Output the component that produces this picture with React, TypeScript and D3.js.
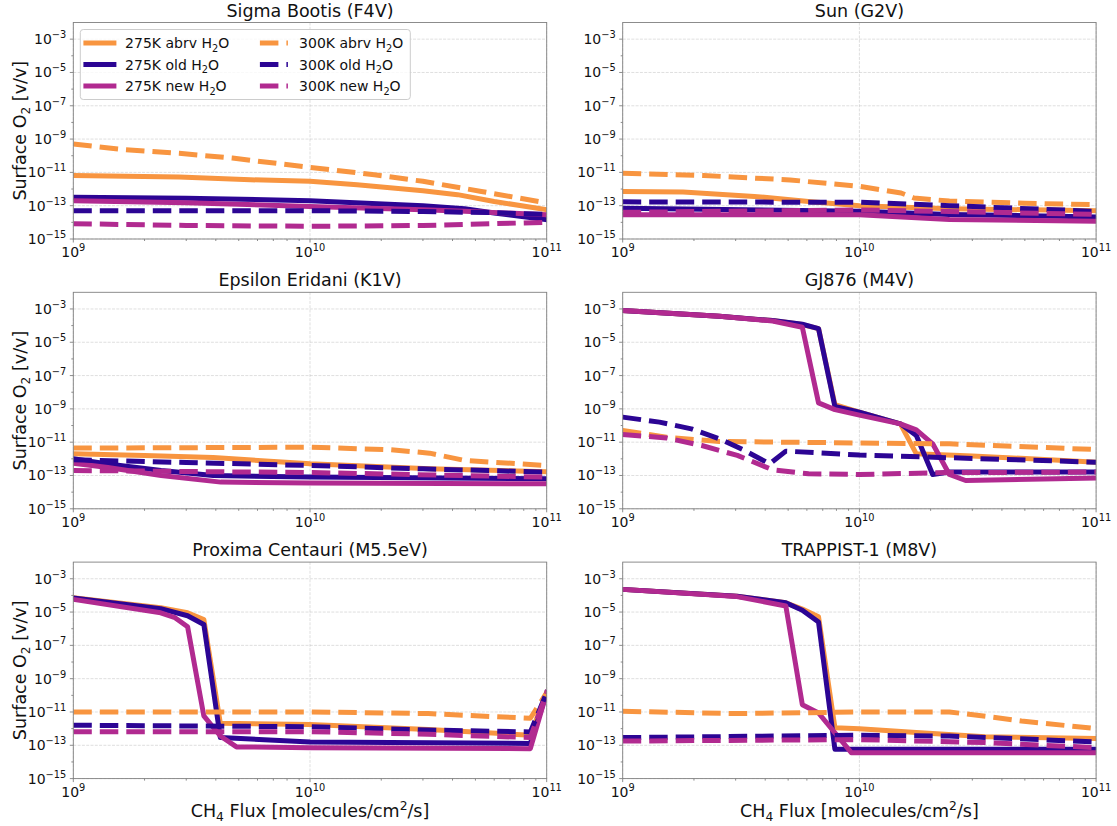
import React from "react";
import * as d3 from "d3";

type Pt = [number, number];

// ---------- Sigma Bootis (F4V) ----------
const sb275Abrv: Pt[] = [[1e9, 6.6e-12], [2.8e9, 5.2e-12], [5.6e9, 3.6e-12], [1e10, 2.9e-12], [1.58e10, 1.8e-12], [3e10, 8e-13], [4.2e10, 4.6e-13], [6e10, 1.8e-13], [1e11, 5.8e-14]];
const sb275Old: Pt[] = [[1e9, 3.2e-13], [3e9, 2.8e-13], [1e10, 2e-13], [3e10, 1e-13], [4.5e10, 6.6e-14], [6e10, 3.6e-14], [1e11, 1.45e-14]];
const sb275New: Pt[] = [[1e9, 2e-13], [3e9, 1.5e-13], [1e10, 9e-14], [3e10, 5.8e-14], [4.5e10, 4.6e-14], [1e11, 2.9e-14]];
const sb300Abrv: Pt[] = [[1e9, 5e-10], [1.65e9, 2.3e-10], [2.8e9, 1.4e-10], [4.7e9, 7.2e-11], [1e10, 2e-11], [1.87e10, 7.2e-12], [3e10, 2.9e-12], [5.3e10, 7.2e-13], [1e11, 1.45e-13]];
const sb300Old: Pt[] = [[1e9, 5e-14], [1e10, 5e-14], [3e10, 4.5e-14], [6e10, 3.8e-14], [1e11, 3e-14]];
const sb300New: Pt[] = [[1e9, 8.3e-15], [3e9, 6.5e-15], [1e10, 5.8e-15], [3e10, 6.5e-15], [1e11, 1e-14]];

// ---------- Sun (G2V) ----------
const sun275Abrv: Pt[] = [[1e9, 7.2e-13], [1.8e9, 6.6e-13], [3.6e9, 3.6e-13], [6.1e9, 1.8e-13], [1e10, 1e-13], [2.4e10, 6.6e-14], [1e11, 5e-14]];
const sun275Old: Pt[] = [[1e9, 7e-14], [1e10, 4.6e-14], [2.4e10, 3e-14], [1e11, 2.1e-14]];
const sun275New: Pt[] = [[1e9, 2.9e-14], [1e10, 2.9e-14], [2.4e10, 1.5e-14], [1e11, 1.15e-14]];
const sun300Abrv: Pt[] = [[1e9, 9e-12], [2.2e9, 6.5e-12], [5.1e9, 3.5e-12], [1e10, 1.45e-12], [1.5e10, 5.8e-13], [1.7e10, 2.9e-13], [2.4e10, 1.9e-13], [5e10, 1.4e-13], [1e11, 1.15e-13]];
const sun300Old: Pt[] = [[1e9, 1.7e-13], [1e10, 1.6e-13], [2.4e10, 1e-13], [1e11, 4.6e-14]];
const sun300New: Pt[] = [[1e9, 4e-14], [1e10, 5.5e-14], [2.4e10, 4.5e-14], [1e11, 3e-14]];

// ---------- Epsilon Eridani (K1V) ----------
const ee275Abrv: Pt[] = [[1e9, 2e-12], [2e9, 1.6e-12], [3.9e9, 1.2e-12], [1e10, 5e-13], [3.2e10, 2.5e-13], [1e11, 1.7e-13]];
const ee275Old: Pt[] = [[1e9, 1e-12], [1.4e9, 5e-13], [2.35e9, 2e-13], [3.9e9, 1e-13], [1e10, 8e-14], [1e11, 6.3e-14]];
const ee275New: Pt[] = [[1e9, 5.5e-13], [1.4e9, 3e-13], [2.35e9, 1e-13], [4.2e9, 4e-14], [1e10, 3.5e-14], [1e11, 3.2e-14]];
const ee300Abrv: Pt[] = [[1e9, 4.4e-12], [1e10, 5e-12], [2.2e10, 3.5e-12], [3.2e10, 2.2e-12], [4.5e10, 8e-13], [1e11, 4e-13]];
const ee300Old: Pt[] = [[1e9, 8.7e-13], [3e9, 6e-13], [1e10, 4e-13], [3e10, 2.5e-13], [1e11, 1.6e-13]];
const ee300New: Pt[] = [[1e9, 2e-13], [1e10, 1.5e-13], [1e11, 8e-14]];

// ---------- GJ876 (M4V) ----------
const gj275Abrv: Pt[] = [[1e9, 8e-4], [2.56e9, 3.6e-4], [4.3e9, 2e-4], [5.74e9, 1.15e-4], [6.72e9, 6.6e-5], [7.88e9, 1.8e-9], [1e10, 6.3e-10], [1.49e10, 1.26e-10], [1.74e10, 2e-12], [3e10, 1.5e-12], [1e11, 6.3e-13]];
const gj275Old: Pt[] = [[1e9, 8e-4], [2.56e9, 3.6e-4], [4.3e9, 2e-4], [5.74e9, 1.2e-4], [6.72e9, 6.6e-5], [7.88e9, 1.4e-9], [1e10, 6.3e-10], [1.49e10, 1.26e-10], [1.74e10, 2.5e-11], [2.04e10, 1.15e-13], [2.4e10, 1.6e-13], [1e11, 1.6e-13]];
const gj275New: Pt[] = [[1e9, 8e-4], [2.56e9, 3.6e-4], [4.3e9, 1.9e-4], [5.74e9, 8e-5], [6.72e9, 2.3e-9], [7.88e9, 9e-10], [1e10, 4.2e-10], [1.49e10, 1.26e-10], [1.74e10, 5.5e-11], [2.04e10, 8e-12], [2.4e10, 1.15e-13], [2.81e10, 5e-14], [1e11, 7e-14]];
const gj300Abrv: Pt[] = [[1e9, 5e-11], [1.53e9, 2e-11], [2.56e9, 1.1e-11], [1e10, 9e-12], [2.4e10, 8e-12], [1e11, 3.6e-12]];
const gj300Old: Pt[] = [[1e9, 3.2e-10], [1.43e9, 1.6e-10], [1.95e9, 6.3e-11], [2.56e9, 1.6e-11], [3.27e9, 3.2e-12], [4.18e9, 5e-13], [4.89e9, 2.9e-12], [1e10, 1.7e-12], [1e11, 6.3e-13]];
const gj300New: Pt[] = [[1e9, 2.9e-11], [1.53e9, 1.8e-11], [2.16e9, 6.3e-12], [3.05e9, 1.6e-12], [4.3e9, 2.2e-13], [6.1e9, 1.26e-13], [1e10, 1.15e-13], [2.4e10, 1.5e-13], [1e11, 1.6e-13]];

// ---------- Proxima Centauri (M5.5eV) ----------
const px275Abrv: Pt[] = [[1e9, 7.2e-5], [2.34e9, 1.8e-5], [3.04e9, 9e-6], [3.56e9, 3.6e-6], [4.18e9, 2.1e-12], [1e10, 1.8e-12], [3.16e10, 9e-13], [8.53e10, 4e-13], [1e11, 1.45e-10]];
const px275Old: Pt[] = [[1e9, 6.9e-5], [2.34e9, 1.6e-5], [3.04e9, 6e-6], [3.56e9, 1.8e-6], [4.18e9, 2.9e-13], [1e10, 1.6e-13], [8.53e10, 1.3e-13], [1e11, 1.45e-10]];
const px275New: Pt[] = [[1e9, 5.8e-5], [2.34e9, 9e-6], [2.69e9, 4.6e-6], [3.04e9, 1.3e-6], [3.56e9, 5.8e-12], [4.18e9, 3.6e-13], [4.89e9, 8e-14], [1e10, 7.2e-14], [8.53e10, 6.3e-14], [1e11, 1.45e-10]];
const px300Abrv: Pt[] = [[1e9, 1e-11], [1e10, 1e-11], [3.16e10, 8e-12], [8.53e10, 4.2e-12], [1e11, 1.45e-10]];
const px300Old: Pt[] = [[1e9, 1.6e-12], [1e10, 1.3e-12], [3.16e10, 8.3e-13], [8.53e10, 6.3e-13], [1e11, 1.45e-10]];
const px300New: Pt[] = [[1e9, 6.6e-13], [1e10, 6.6e-13], [3.16e10, 4.6e-13], [8.53e10, 2.9e-13], [1e11, 1.45e-10]];

// ---------- TRAPPIST-1 (M8V) ----------
const tr275Abrv: Pt[] = [[1e9, 2.3e-4], [3.04e9, 9e-5], [4.89e9, 3.6e-5], [5.74e9, 1.5e-5], [6.72e9, 5.2e-6], [7.88e9, 1.15e-12], [1e10, 1e-12], [1.74e10, 5.8e-13], [3.4e10, 3.3e-13], [1e11, 2.6e-13]];
const tr275Old: Pt[] = [[1e9, 2.3e-4], [3.04e9, 9e-5], [4.89e9, 3.6e-5], [5.74e9, 1.3e-5], [6.72e9, 2.5e-6], [7.88e9, 5.8e-14], [1e11, 5.8e-14]];
const tr275New: Pt[] = [[1e9, 2.3e-4], [3.04e9, 8.5e-5], [4.89e9, 2.3e-5], [5.74e9, 2.75e-11], [6.72e9, 8.7e-12], [9.24e9, 3.6e-14], [1e11, 3.6e-14]];
const tr300Abrv: Pt[] = [[1e9, 1.1e-11], [3.04e9, 8e-12], [1e10, 1e-11], [2.4e10, 1e-11], [3.43e10, 5.5e-12], [4.84e10, 2.9e-12], [1e11, 1e-12]];
const tr300Old: Pt[] = [[1e9, 2.9e-13], [1e10, 4e-13], [2.4e10, 3.6e-13], [1e11, 1.6e-13]];
const tr300New: Pt[] = [[1e9, 1.8e-13], [1e10, 2.2e-13], [3.4e10, 1.45e-13], [1e11, 7.2e-14]];

const PANEL_TITLES = [
  "Sigma Bootis (F4V)",
  "Sun (G2V)",
  "Epsilon Eridani (K1V)",
  "GJ876 (M4V)",
  "Proxima Centauri (M5.5eV)",
  "TRAPPIST-1 (M8V)",
];
const SERIES_LABELS = ["275K abrv", "275K old", "275K new", "300K abrv", "300K old", "300K new"];
const Y_MAJOR_EXP = [-3, -5, -7, -9, -11, -13, -15];
const Y_MINOR_EXP = [-4, -6, -8, -10, -12, -14];
const X_MAJOR_EXP = [9, 10, 11];
const X_MINOR_MULT = [2, 3, 4, 5, 6, 7, 8, 9];

const ORANGE = "#f89540";
const INDIGO = "#2c0594";
const MAGENTA = "#b12a90";
const SERIES_COLORS = [ORANGE, INDIGO, MAGENTA, ORANGE, INDIGO, MAGENTA];
const SERIES_DASHED = [false, false, false, true, true, true];

const PANEL_SERIES: Pt[][][] = [
  [sb275Abrv, sb275Old, sb275New, sb300Abrv, sb300Old, sb300New],
  [sun275Abrv, sun275Old, sun275New, sun300Abrv, sun300Old, sun300New],
  [ee275Abrv, ee275Old, ee275New, ee300Abrv, ee300Old, ee300New],
  [gj275Abrv, gj275Old, gj275New, gj300Abrv, gj300Old, gj300New],
  [px275Abrv, px275Old, px275New, px300Abrv, px300Old, px300New],
  [tr275Abrv, tr275Old, tr275New, tr300Abrv, tr300Old, tr300New],
];

const FONT = "DejaVu Sans";
const TICK_FS = 14;
const LABEL_FS = 17.5;
const LW = 5;
const DASH = "18.5 8";
const SPINE = "#808080";

function PowLabel({ x, y, exp, anchor }: { x: number; y: number; exp: number; anchor: "end" | "middle" }) {
  const e = exp < 0 ? "\u2212" + Math.abs(exp) : String(exp);
  return (
    <text x={x} y={y} textAnchor={anchor} fontSize={TICK_FS} fill="#111">
      10
      <tspan dy={-6} fontSize={9.8}>
        {e}
      </tspan>
    </text>
  );
}

function H2O({ label }: { label: string }) {
  return (
    <>
      {label} H
      <tspan dy={3.5} fontSize={9.8}>
        2
      </tspan>
      <tspan dy={-3.5}>O</tspan>
    </>
  );
}

function Panel({
  idx,
  x0,
  y0,
  w,
  h,
}: {
  idx: number;
  x0: number;
  y0: number;
  w: number;
  h: number;
}) {
  const x = d3.scaleLog().domain([1e9, 1e11]).range([x0, x0 + w]);
  const y = d3.scaleLog().domain([1e-15, 1e-2]).range([y0 + h, y0]);
  const line = d3
    .line<Pt>()
    .x((d) => x(d[0]))
    .y((d) => y(d[1]));
  const col = idx % 2;
  const row = Math.floor(idx / 2);
  const clipId = `clip-${idx}`;
  const series = PANEL_SERIES[idx];
  const xMinor: number[] = [];
  [9, 10].forEach((d) => X_MINOR_MULT.forEach((m) => xMinor.push(m * Math.pow(10, d))));

  return (
    <g>
      <defs>
        <clipPath id={clipId}>
          <rect x={x0} y={y0} width={w} height={h} />
        </clipPath>
      </defs>
      {/* grid */}
      <g stroke="#b0b0b0" strokeOpacity={0.5} strokeWidth={0.8} strokeDasharray="3 1.3">
        {Y_MAJOR_EXP.map((e) => (
          <line key={"gy" + e} x1={x0} x2={x0 + w} y1={y(Math.pow(10, e))} y2={y(Math.pow(10, e))} />
        ))}
        {X_MAJOR_EXP.map((e) => (
          <line key={"gx" + e} y1={y0} y2={y0 + h} x1={x(Math.pow(10, e))} x2={x(Math.pow(10, e))} />
        ))}
      </g>
      {/* lines */}
      <g clipPath={`url(#${clipId})`} fill="none">
        {series.map((s, i) => (
          <path
            key={i}
            d={line(s) || ""}
            stroke={SERIES_COLORS[i]}
            strokeWidth={LW}
            strokeLinejoin="round"
            strokeLinecap={SERIES_DASHED[i] ? "butt" : "square"}
            strokeDasharray={SERIES_DASHED[i] ? DASH : undefined}
          />
        ))}
      </g>
      {/* spines */}
      <rect x={x0} y={y0} width={w} height={h} fill="none" stroke={SPINE} strokeWidth={0.9} />
      {/* ticks */}
      <g stroke={SPINE} strokeWidth={0.9}>
        {Y_MAJOR_EXP.map((e) => (
          <line key={"yt" + e} x1={x0 - 3.5} x2={x0} y1={y(Math.pow(10, e))} y2={y(Math.pow(10, e))} />
        ))}
        {Y_MINOR_EXP.map((e) => (
          <line key={"ym" + e} x1={x0 - 2} x2={x0} y1={y(Math.pow(10, e))} y2={y(Math.pow(10, e))} />
        ))}
        {X_MAJOR_EXP.map((e) => (
          <line key={"xt" + e} x1={x(Math.pow(10, e))} x2={x(Math.pow(10, e))} y1={y0 + h} y2={y0 + h + 3.5} />
        ))}
        {xMinor.map((v) => (
          <line key={"xm" + v} x1={x(v)} x2={x(v)} y1={y0 + h} y2={y0 + h + 2} />
        ))}
      </g>
      {Y_MAJOR_EXP.map((e) => (
        <PowLabel key={"yl" + e} x={x0 - 7} y={y(Math.pow(10, e)) + 5} exp={e} anchor="end" />
      ))}
      {X_MAJOR_EXP.map((e) => (
        <PowLabel key={"xl" + e} x={x(Math.pow(10, e))} y={y0 + h + 18} exp={e} anchor="middle" />
      ))}
      {/* title */}
      <text x={x0 + w / 2} y={y0 - 6} textAnchor="middle" fontSize={LABEL_FS} fill="#111">
        {PANEL_TITLES[idx]}
      </text>
      {/* y label */}
      {col === 0 && (
        <text
          transform={`translate(26,${y0 + h / 2}) rotate(-90)`}
          textAnchor="middle"
          fontSize={LABEL_FS}
          fill="#111"
        >
          Surface O
          <tspan dy={4} fontSize={12.3}>
            2
          </tspan>
          <tspan dy={-4}> [v/v]</tspan>
        </text>
      )}
      {/* x label */}
      {row === 2 && (
        <text x={x0 + w / 2} y={817} textAnchor="middle" fontSize={LABEL_FS} fill="#111">
          CH
          <tspan dy={4} fontSize={12.3}>
            4
          </tspan>
          <tspan dy={-4}> Flux [molecules/cm</tspan>
          <tspan dy={-7} fontSize={12.3}>
            2
          </tspan>
          <tspan dy={7}>/s]</tspan>
        </text>
      )}
      {idx === 0 && <Legend lx={x0 + 7} ly={y0 + 7} />}
    </g>
  );
}

function Legend({ lx, ly }: { lx: number; ly: number }) {
  const pad = 5.6;
  const colOffset = 174;
  const rowPitch = 21.5;
  const bw = 330;
  const bh = 70;
  return (
    <g>
      <rect
        x={lx}
        y={ly}
        width={bw}
        height={bh}
        rx={3}
        fill="white"
        fillOpacity={0.8}
        stroke="#cccccc"
        strokeWidth={1}
      />
      {SERIES_LABELS.map((lab, i) => {
        const c = Math.floor(i / 3);
        const r = i % 3;
        const hx = lx + pad + c * colOffset;
        const cy = ly + pad + 8 + r * rowPitch;
        return (
          <g key={lab}>
            <line
              x1={hx}
              x2={hx + 28}
              y1={cy}
              y2={cy}
              stroke={SERIES_COLORS[i]}
              strokeWidth={LW}
              strokeLinecap={SERIES_DASHED[i] ? "butt" : "square"}
              strokeDasharray={SERIES_DASHED[i] ? DASH : undefined}
            />
            <text x={hx + 28 + 11.2} y={cy + 5} fontSize={TICK_FS} fill="#111">
              <H2O label={lab} />
            </text>
          </g>
        );
      })}
    </g>
  );
}

export default function App() {
  const W = 1117;
  const H = 826;
  const colX = [73.3, 622.7];
  const pw = 473.4;
  const rowY = [22.5, 292.3, 562.1];
  const ph = 216.5;
  return (
    <svg
      width={W}
      height={H}
      style={{ position: "absolute", left: 0, top: 0, display: "block" }}
      fontFamily={FONT}
    >
      <rect width={W} height={H} fill="white" />
      {PANEL_TITLES.map((_, i) => (
        <Panel key={i} idx={i} x0={colX[i % 2]} y0={rowY[Math.floor(i / 2)]} w={pw} h={ph} />
      ))}
    </svg>
  );
}
